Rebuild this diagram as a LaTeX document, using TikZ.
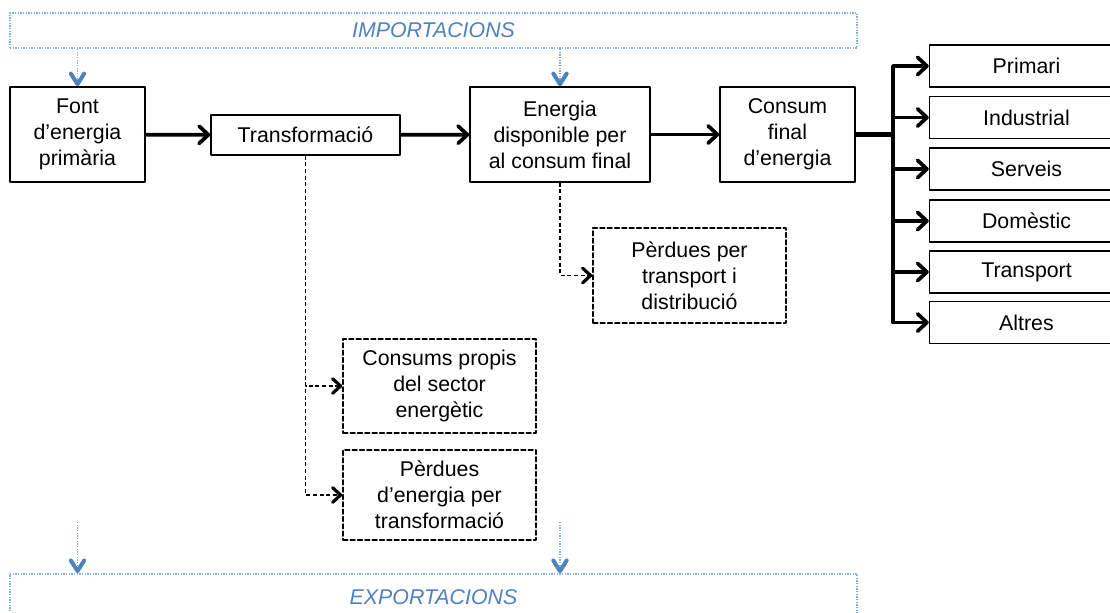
\documentclass[tikz,border=0pt]{standalone}
\usepackage{fontspec}
\setmainfont{Liberation Sans}
\usetikzlibrary{arrows.meta}
\definecolor{impblue}{RGB}{79,129,189}
\definecolor{impline}{RGB}{135,175,222}
\begin{document}
\begin{tikzpicture}[x=.75pt,y=-.75pt,line cap=round,line join=round,
	every node/.style={font=\fontsize{16}{19.5}\selectfont,align=center,inner sep=0pt},
	stage/.style={draw,line width=1.1pt,minimum width=101.25pt,minimum height=71.25pt},
	sector/.style={draw,line width=1.1pt,minimum width=145.5pt,minimum height=31.5pt},
	loss/.style={draw,line width=1.2pt,dash pattern=on 3.5pt off 2pt,minimum width=144.75pt},
	tradebox/.style={draw=impline,line width=1.3pt,line cap=butt,dash pattern=on 1pt off 1pt,minimum width=635.25pt,text=impblue,font=\fontsize{16}{19.5}\selectfont\itshape},
	mainarrow/.style={line width=2.8pt,-{Straight Barb[length=7pt,width=13pt,line width=2.8pt,round]}},
	lossarrow/.style={line width=1.4pt,line cap=butt,dash pattern=on 3pt off 2pt,-{Straight Barb[length=6pt,width=11pt,line width=2.4pt,round]}},
	tradearrow/.style={draw=impline,line width=1.3pt,line cap=butt,dash pattern=on 1pt off 1pt,-{Straight Barb[length=8pt,width=10pt,line width=3pt,round,color=impblue]}}]
		\clip (0,0) rectangle (1110,612);
		\node[tradebox,minimum height=26.25pt] (imp) at (433.5,30.5) {IMPORTACIONS};
		\node[tradebox,minimum height=34.5pt] (exp) at (433.5,597) {EXPORTACIONS};
		\node[stage] (font) at (77.5,134.5) {Font\\d’energia\\primària};
		\node[stage,minimum width=141.75pt,minimum height=30pt] (transf) at (305.5,135) {Transformació};
		\node[stage,minimum width=135pt] (energia) at (560,134.5) {Energia\\disponible per\\al consum final};
		\node[stage] (consum) at (787.5,134.5) {Consum\\final\\d’energia};
		\node[loss,minimum height=71.25pt] (perdtrans) at (689.5,275.5) {Pèrdues per\\transport i\\distribució};
		\node[loss,minimum height=70.5pt] (propis) at (439.5,386) {Consums propis\\del sector\\energètic};
		\node[loss,minimum height=67.5pt] (perdtransf) at (439.5,495) {Pèrdues\\d’energia per\\transformació};
		\coordinate (hub) at (893,134.5);
		\coordinate (outfont) at (77.5,522);
		\coordinate (outenergia) at (560,522);
		\draw[tradearrow] (imp.south -| font) -- (font);
		\draw[tradearrow] (imp.south -| energia) -- (energia);
		\draw[tradearrow] (outfont) -- (exp.north -| outfont);
		\draw[tradearrow] (outenergia) -- (exp.north -| outenergia);
		\draw[mainarrow] (font) -- (transf);
		\draw[mainarrow] (transf) -- (energia);
		\draw[mainarrow] (energia) -- (consum);
		\draw[line width=4.2pt,line cap=butt] (consum.east) -- (hub);
		\foreach \nm/\txt/\yy in {primari/Primari/66,industrial/Industrial/117.5,serveis/Serveis/169,domestic/Domèstic/221,transport/Transport/272,altres/Altres/322.5}{
			\node[sector] (\nm) at (1026.5,\yy) {\txt};
			\draw[mainarrow] (hub) |- (\nm.west);
		}
		\draw[lossarrow] (energia.south) |- (perdtrans.west);
		\draw[lossarrow] (transf.south) |- (propis.west);
		\draw[lossarrow] (transf.south) |- (perdtransf.west);
	\end{tikzpicture}
\end{document}
